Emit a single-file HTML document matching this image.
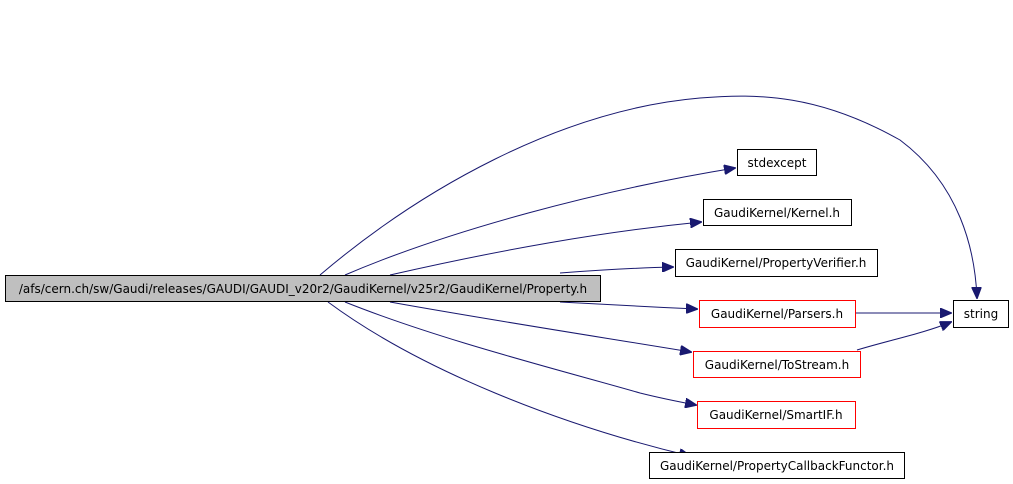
<!DOCTYPE html>
<html><head><style>
html,body{margin:0;padding:0;background:#fff;width:1013px;height:484px;overflow:hidden}
svg text{font-family:"DejaVu Sans","Liberation Sans",sans-serif;font-size:12px;fill:#000}
</style></head><body>
<svg width="1013" height="484" viewBox="0 0 1013 484" xmlns="http://www.w3.org/2000/svg">
<defs><marker id="a" markerWidth="12" markerHeight="10" refX="11" refY="5" orient="auto" markerUnits="userSpaceOnUse"><path d="M0,0 L12,5 L0,10 z" fill="#191970" stroke="#191970"/></marker></defs>
<g fill="none" stroke="#191970" stroke-width="1">
<path d="M320,275 C420,190 560,110 700,98 C760,93 820,95 900,140 C960,185 975,250 977,298" marker-end="url(#a)"/>
<path d="M345,275 C450,230 600,190 735,168" marker-end="url(#a)"/>
<path d="M390,275 C500,250 600,232 701,222" marker-end="url(#a)"/>
<path d="M560,273 C600,270 630,268 673,267" marker-end="url(#a)"/>
<path d="M560,302 C600,304 650,307 697,309" marker-end="url(#a)"/>
<path d="M390,302 C490,320 600,337 691,352" marker-end="url(#a)"/>
<path d="M345,302 C440,340 560,370 640,393 C660,398 680,402 696,405" marker-end="url(#a)"/>
<path d="M328,302 C420,370 560,425 690,456" marker-end="url(#a)"/>
<path d="M855,313 L951,313" marker-end="url(#a)"/>
<path d="M857,350 C890,340 925,333 951,322" marker-end="url(#a)"/>
</g>
<rect x="5.5" y="275.5" width="595" height="26" fill="#bfbfbf" stroke="#000"/>
<text x="303" y="293" text-anchor="middle">/afs/cern.ch/sw/Gaudi/releases/GAUDI/GAUDI_v20r2/GaudiKernel/v25r2/GaudiKernel/Property.h</text>
<g fill="#fff" stroke="#000">
<rect x="737.5" y="149.5" width="79" height="26"/>
<rect x="703.5" y="199.5" width="148" height="26"/>
<rect x="675.5" y="249.5" width="202" height="27"/>
<rect x="699.5" y="300.5" width="156" height="27" stroke="#f00"/>
<rect x="693.5" y="351.5" width="167" height="26" stroke="#f00"/>
<rect x="697.5" y="401.5" width="158" height="27" stroke="#f00"/>
<rect x="649.5" y="452.5" width="255" height="26"/>
<rect x="953.5" y="300.5" width="55" height="27"/>
</g>
<g text-anchor="middle">
<text x="777" y="167">stdexcept</text>
<text x="777" y="217">GaudiKernel/Kernel.h</text>
<text x="776" y="267">GaudiKernel/PropertyVerifier.h</text>
<text x="777" y="318">GaudiKernel/Parsers.h</text>
<text x="777" y="369">GaudiKernel/ToStream.h</text>
<text x="776" y="419">GaudiKernel/SmartIF.h</text>
<text x="777" y="470">GaudiKernel/PropertyCallbackFunctor.h</text>
<text x="981" y="318">string</text>
</g>
</svg>
</body></html>
